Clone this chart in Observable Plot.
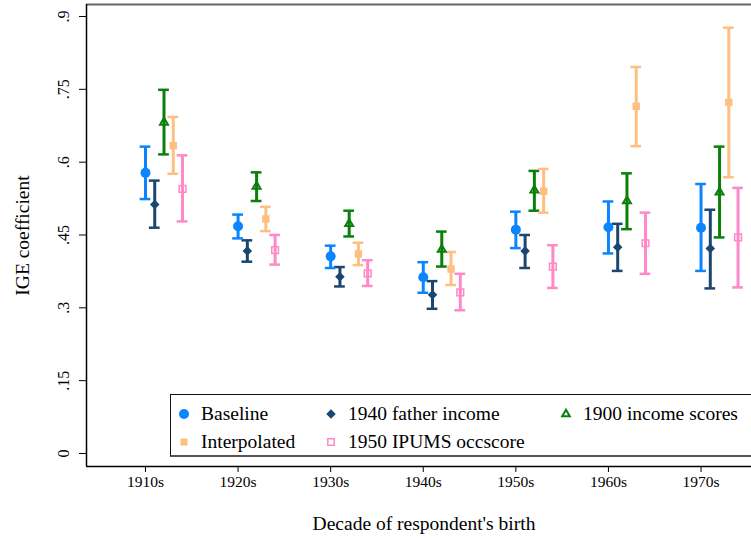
<!DOCTYPE html>
<html>
<head>
<meta charset="utf-8">
<script src="https://cdn.jsdelivr.net/npm/d3@7"></script>
<script src="https://cdn.jsdelivr.net/npm/@observablehq/plot@0.6"></script>
<style>
  html, body { margin: 0; padding: 0; background: #fff; overflow: hidden; }
  #wrap { position: relative; width: 751px; height: 540px; overflow: hidden; font-family: "Liberation Serif", "Times New Roman", serif; }
  #legend { position: absolute; left: 170px; top: 394px; width: 700px; height: 63px; box-sizing: border-box;
    border-top: 1px solid #111; border-left: 1px solid #111; border-bottom: 2px solid #555; background: #fff; }
  .item { position: absolute; font-size: 19.5px; color: #000; white-space: nowrap; line-height: 1; }
  .item svg { position: absolute; overflow: visible; }
</style>
</head>
<body>
<div id="wrap"></div>
<script>
// ---- data ----
const decades = [1910, 1920, 1930, 1940, 1950, 1960, 1970];
const decadeLabels = ["1910s", "1920s", "1930s", "1940s", "1950s", "1960s", "1970s"];
const yTicks = [0, 0.15, 0.3, 0.45, 0.6, 0.75, 0.9];
const yTickLabels = ["0", ".15", ".3", ".45", ".6", ".75", ".9"];
const seriesNames = ["Baseline", "1940 father income", "1900 income scores", "Interpolated", "1950 IPUMS occscore"];

const baselineEst = [0.578, 0.468, 0.406, 0.363, 0.461, 0.466, 0.465];
const baselineLo  = [0.524, 0.443, 0.382, 0.331, 0.423, 0.412, 0.376];
const baselineHi  = [0.632, 0.492, 0.428, 0.394, 0.498, 0.519, 0.555];

const fatherEst = [0.513, 0.417, 0.364, 0.327, 0.417, 0.425, 0.422];
const fatherLo  = [0.465, 0.395, 0.344, 0.298, 0.382, 0.376, 0.340];
const fatherHi  = [0.562, 0.439, 0.384, 0.355, 0.450, 0.473, 0.502];

const scores1900Est = [0.682, 0.550, 0.473, 0.420, 0.542, 0.520, 0.538];
const scores1900Lo  = [0.616, 0.520, 0.447, 0.385, 0.500, 0.462, 0.445];
const scores1900Hi  = [0.749, 0.579, 0.500, 0.457, 0.582, 0.577, 0.632];

const interpEst = [0.634, 0.483, 0.411, 0.380, 0.540, 0.715, 0.723];
const interpLo  = [0.576, 0.458, 0.388, 0.347, 0.496, 0.633, 0.569];
const interpHi  = [0.693, 0.508, 0.434, 0.415, 0.586, 0.796, 0.877];

const ipumsEst = [0.545, 0.419, 0.371, 0.332, 0.385, 0.433, 0.445];
const ipumsLo  = [0.478, 0.389, 0.345, 0.295, 0.341, 0.370, 0.342];
const ipumsHi  = [0.614, 0.450, 0.398, 0.370, 0.429, 0.496, 0.547];

// ---- styling ----
const colors = ["#0a84ff", "#1a476f", "#0a7f0a", "#ffbf80", "#ff88c6"];
const font = "Liberation Serif, Times New Roman, serif";

const seriesData = [
  [baselineEst, baselineLo, baselineHi],
  [fatherEst, fatherLo, fatherHi],
  [scores1900Est, scores1900Lo, scores1900Hi],
  [interpEst, interpLo, interpHi],
  [ipumsEst, ipumsLo, ipumsHi]
];
const rows = [];
seriesData.forEach(([est, lo, hi], i) => {
  decades.forEach((d, j) => {
    rows.push({series: seriesNames[i], si: i, x: d + i, est: est[j], lo: lo[j], hi: hi[j]});
  });
});
const bySeries = i => rows.filter(r => r.si === i);

const xDomain = [1903.63, 1975.45];
const yDomain = [-0.0268, 0.9247];
const capHalf = 0.58;

const chart = Plot.plot({
  width: 751,
  height: 540,
  marginLeft: 86,
  marginRight: 0,
  marginTop: 4,
  marginBottom: 74,
  style: {fontFamily: font, fontSize: "16px", color: "#000", background: "#fff"},
  x: {domain: xDomain},
  y: {domain: yDomain},
  color: {domain: seriesNames, range: colors},
  marks: [
    // frame lines
    Plot.ruleY([yDomain[1]], {stroke: "#666", strokeWidth: 2}),
    Plot.ruleX([xDomain[0]], {stroke: "#000", strokeWidth: 1.5}),
    Plot.ruleY([yDomain[0]], {stroke: "#000", strokeWidth: 1.5}),
    // axes
    Plot.axisX({ticks: decades, tickFormat: d => decadeLabels[decades.indexOf(d)], tickSize: 6, tickPadding: 3, fontSize: 15.5, label: null}),
    Plot.axisY({ticks: yTicks, tickSize: 7, tickFormat: () => "", label: null}),
    Plot.text(yTicks, {y: d => d, text: (d, i) => yTickLabels[i], frameAnchor: "left", dx: -23, rotate: -90, textAnchor: "middle", lineAnchor: "middle", fontSize: 16}),
    Plot.text(["IGE coefficient"], {frameAnchor: "left", dx: -64, rotate: -90, textAnchor: "middle", lineAnchor: "middle", fontSize: 19.5}),
    Plot.text(["Decade of respondent's birth"], {frameAnchor: "bottom", dx: 5, dy: 57, textAnchor: "middle", lineAnchor: "middle", fontSize: 19.5}),
    // error bars
    Plot.ruleX(rows, {x: "x", y1: "lo", y2: "hi", stroke: "series", strokeWidth: 3}),
    Plot.ruleY(rows, {y: "hi", x1: d => d.x - capHalf, x2: d => d.x + capHalf, stroke: "series", strokeWidth: 2.5}),
    Plot.ruleY(rows, {y: "lo", x1: d => d.x - capHalf, x2: d => d.x + capHalf, stroke: "series", strokeWidth: 2.5}),
    // markers
    Plot.dot(bySeries(0), {x: "x", y: "est", fill: "series", symbol: "circle", r: 5}),
    Plot.dot(bySeries(1), {x: "x", y: "est", fill: "series", symbol: "diamond2", r: 4.3}),
    Plot.dot(bySeries(2), {x: "x", y: "est", stroke: "series", fill: "none", symbol: "triangle2", r: 3.8, strokeWidth: 2}),
    Plot.dot(bySeries(3), {x: "x", y: "est", fill: "series", symbol: "square", r: 4.2}),
    Plot.dot(bySeries(4), {x: "x", y: "est", stroke: "series", fill: "none", symbol: "square", r: 3.8, strokeWidth: 1.5})
  ]
});
const wrap = document.getElementById("wrap");
wrap.appendChild(chart);

// ---- legend (overlay inside plot area, like the original) ----
const legend = document.createElement("div");
legend.id = "legend";
wrap.appendChild(legend);
const legendPos = [[13, 19], [160, 19], [395, 19], [13, 47], [160, 47]]; // marker centers relative to legend box
const legendOrder = [0, 1, 2, 3, 4];
const symbolMap = ["circle", "diamond2", "triangle2", "square", "square"];
const symbolR = [5, 4.3, 3.6, 4.0, 3.6];
const hollow = [false, false, true, false, true];
legendOrder.forEach((si, k) => {
  const [mx, my] = legendPos[k];
  const item = document.createElement("div");
  item.className = "item";
  item.style.left = "0px"; item.style.top = "0px";
  const sym = Plot.Symbol ? null : null;
  const sz = Math.PI * symbolR[si] ** 2;
  const symbols = {circle: d3.symbolCircle, diamond2: d3.symbolDiamond2, triangle2: d3.symbolTriangle2, square: d3.symbolSquare};
  const path = d3.symbol(symbols[symbolMap[si]], sz)();
  const svgNS = "http://www.w3.org/2000/svg";
  const svg = document.createElementNS(svgNS, "svg");
  svg.setAttribute("width", 1); svg.setAttribute("height", 1);
  svg.style.left = mx + "px"; svg.style.top = my + "px";
  const p = document.createElementNS(svgNS, "path");
  p.setAttribute("d", path);
  if (hollow[si]) { p.setAttribute("fill", "none"); p.setAttribute("stroke", colors[si]); p.setAttribute("stroke-width", si === 2 ? 2 : 1.5); }
  else p.setAttribute("fill", colors[si]);
  svg.appendChild(p);
  item.appendChild(svg);
  const t = document.createElement("span");
  t.textContent = seriesNames[si];
  t.style.position = "absolute";
  t.style.left = (mx + 17) + "px";
  t.style.top = (my - 10) + "px";
  item.appendChild(t);
  legend.appendChild(item);
});
</script>
</body>
</html>
